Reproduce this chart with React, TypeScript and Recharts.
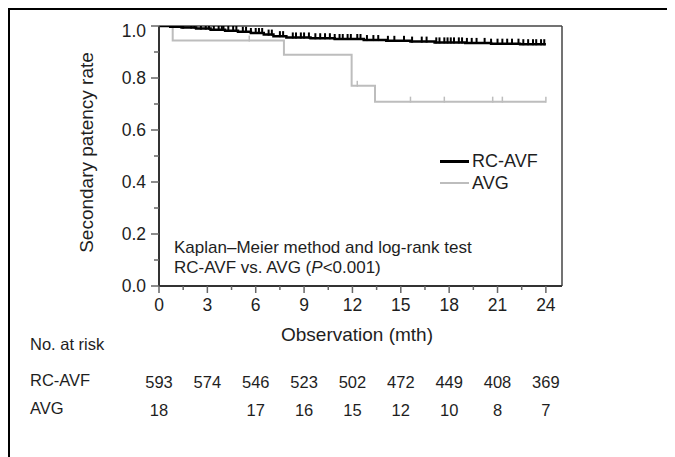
import React from 'react';
import { LineChart, Line, XAxis, YAxis, ReferenceLine, Legend, Customized } from 'recharts';

// ---- data ----
const xTicks = [0, 1.5, 3, 4.5, 6, 7.5, 9, 10.5, 12, 13.5, 15, 16.5, 18, 19.5, 21, 22.5, 24];
const yTicks = [0, 0.1, 0.2, 0.3, 0.4, 0.5, 0.6, 0.7, 0.8, 0.9, 1];

const riskTimes = [0, 3, 6, 9, 12, 15, 18, 21, 24];
const rcRisk = [593, 574, 546, 523, 502, 472, 449, 408, 369];
const avgRisk: (number | null)[] = [18, null, 17, 16, 15, 12, 10, 8, 7];

const rcTimes = [0, 0.7, 1.4, 2.3, 3.2, 4.1, 4.9, 5.7, 6.5, 7.1, 7.9, 9.4, 10.9, 12.7, 14.1, 15.6, 17.1, 19.0, 20.6, 22.4, 24];
const rcSurv = [1, 0.997, 0.994, 0.99, 0.986, 0.982, 0.978, 0.973, 0.967, 0.961, 0.956, 0.953, 0.95, 0.946, 0.943, 0.94, 0.937, 0.935, 0.932, 0.93, 0.93];
const rcCensor = [0.3, 0.9, 1.3, 1.5, 2.0, 2.2, 2.6, 2.9, 3.1, 3.4, 3.7, 3.9, 4.0, 4.3, 4.6, 4.8, 5.2, 5.4, 5.7, 6.0, 6.2, 6.4, 6.8, 7.0, 7.5, 7.7, 8.3, 8.5, 8.8, 9.0, 9.3, 9.7, 10.0, 10.3, 10.6, 10.9, 11.2, 11.4, 11.7, 11.9, 12.3, 12.5, 12.9, 13.3, 13.6, 14.2, 14.6, 15.2, 15.7, 16.3, 16.6, 17.2, 17.4, 17.7, 17.9, 18.1, 18.3, 18.6, 18.8, 19.1, 19.4, 19.7, 20.2, 20.6, 21.0, 21.3, 21.6, 21.9, 22.3, 22.6, 22.9, 23.2, 23.4, 23.7, 23.9];

const avgTimes = [0, 0.85, 7.75, 11.95, 13.4, 24];
const avgSurv = [1, 0.944, 0.889, 0.77, 0.709, 0.709];
const avgCensor = [5.6, 12.3, 15.6, 17.7, 20.7, 21.3, 24];

type Pt = { t: number; s: number; censor: boolean };

function buildKM(times: number[], surv: number[], censor: number[]): Pt[] {
  const pts: Pt[] = times.map((t, i) => ({ t, s: surv[i], censor: false }));
  censor.forEach((c) => {
    let lvl = surv[0];
    times.forEach((t, i) => {
      if (t <= c) lvl = surv[i];
    });
    pts.push({ t: c, s: lvl, censor: true });
  });
  pts.sort((a, b) => a.t - b.t || (a.censor ? 1 : 0) - (b.censor ? 1 : 0));
  return pts;
}

const rcData = buildKM(rcTimes, rcSurv, rcCensor);
const avgData = buildKM(avgTimes, avgSurv, avgCensor);

const FONT = '"Liberation Sans", Arial, sans-serif';
const TXT = '#1e1e1e';

const makeDot = (color: string, w: number) => (props: any) => {
  const { cx, cy, payload, index } = props;
  if (!payload || !payload.censor || cx == null || cy == null) return <g key={`d${index}`} />;
  return <line key={`d${index}`} x1={cx} x2={cx} y1={cy - 5} y2={cy + 1} stroke={color} strokeWidth={w} />;
};

const XTick = (props: any) => {
  const { x, y, payload } = props;
  const v = payload.value as number;
  const major = Math.abs(v % 3) < 1e-6;
  const idx = riskTimes.indexOf(v);
  return (
    <g>
      <line x1={x} x2={x} y1={y} y2={y + (major ? 7 : 4)} stroke="#666" strokeWidth={1.5} />
      {major && (
        <text x={x} y={y + 19} textAnchor="middle" dominantBaseline="central" fontSize={17.5} fill={TXT}>
          {v}
        </text>
      )}
      {idx >= 0 && (
        <text x={x} y={y + 96} textAnchor="middle" dominantBaseline="central" fontSize={16.5} fill={TXT}>
          {rcRisk[idx]}
        </text>
      )}
      {idx >= 0 && avgRisk[idx] != null && (
        <text x={x} y={y + 124} textAnchor="middle" dominantBaseline="central" fontSize={16.5} fill={TXT}>
          {avgRisk[idx]}
        </text>
      )}
    </g>
  );
};

const YTick = (props: any) => {
  const { x, y, payload } = props;
  const v = payload.value as number;
  const major = Math.round(v * 10) % 2 === 0;
  return (
    <g>
      <line x1={x - (major ? 8 : 5)} x2={x} y1={y} y2={y} stroke="#666" strokeWidth={1.5} />
      {major && (
        <text x={x - 13} y={y + (v === 1 ? 5 : 0)} textAnchor="end" dominantBaseline="central" fontSize={17.5} fill={TXT}>
          {v.toFixed(1)}
        </text>
      )}
    </g>
  );
};

const StaticTexts = () => (
  <g fontFamily={FONT}>
    <text x={76} y={142.5} transform="rotate(-90 76 142.5)" textAnchor="middle" dominantBaseline="central" fontSize={19} fill={TXT}>
      Secondary patency rate
    </text>
    <text x={347} y={324} textAnchor="middle" dominantBaseline="central" fontSize={19} fill={TXT}>
      Observation (mth)
    </text>
    <text x={164} y={237} dominantBaseline="central" fontSize={17} fill={TXT}>
      Kaplan–Meier method and log-rank test
    </text>
    <text x={164} y={257} dominantBaseline="central" fontSize={17} fill={TXT}>
      RC-AVF vs. AVG (<tspan fontStyle="italic">P</tspan>&lt;0.001)
    </text>
    <text x={20} y={334} dominantBaseline="central" fontSize={16.5} fill={TXT}>
      No. at risk
    </text>
    <text x={20} y={370} dominantBaseline="central" fontSize={16.5} fill={TXT}>
      RC-AVF
    </text>
    <text x={20} y={398} dominantBaseline="central" fontSize={16.5} fill={TXT}>
      AVG
    </text>
  </g>
);

const LegendContent = () => (
  <div style={{ fontFamily: FONT, fontSize: 18, color: TXT, lineHeight: '22px' }}>
    <div style={{ display: 'flex', alignItems: 'center', height: 22 }}>
      <span style={{ display: 'inline-block', width: 29, height: 3, background: '#000', marginRight: 3 }} />
      RC-AVF
    </div>
    <div style={{ display: 'flex', alignItems: 'center', height: 22 }}>
      <span style={{ display: 'inline-block', width: 29, height: 2, background: '#bdbdbd', marginRight: 3 }} />
      AVG
    </div>
  </div>
);

export default function App() {
  return (
    <div
      style={{
        width: 665,
        height: 447,
        borderTop: '2px solid #000',
        borderLeft: '2px solid #000',
        fontFamily: FONT,
        position: 'relative',
        background: '#fff',
      }}
    >
      <LineChart width={665} height={447} margin={{ top: 16, right: 113, bottom: 141, left: 0 }}>
        <XAxis
          type="number"
          dataKey="t"
          domain={[0, 25]}
          ticks={xTicks}
          interval={0}
          height={30}
          tickSize={0}
          tickMargin={0}
          tickLine={false}
          axisLine={{ stroke: '#333', strokeWidth: 2 }}
          tick={<XTick />}
          allowDataOverflow
        />
        <YAxis
          type="number"
          domain={[0, 1]}
          ticks={yTicks}
          interval={0}
          width={149}
          tickSize={0}
          tickMargin={0}
          tickLine={false}
          axisLine={{ stroke: '#333', strokeWidth: 2 }}
          tick={<YTick />}
          allowDataOverflow
        />
        <ReferenceLine y={1} stroke="#444" strokeWidth={1.5} />
        <ReferenceLine x={25} stroke="#444" strokeWidth={1.5} />
        <Line
          data={avgData}
          dataKey="s"
          type="stepAfter"
          stroke="#bdbdbd"
          strokeWidth={2}
          dot={makeDot('#bdbdbd', 1.5)}
          activeDot={false}
          isAnimationActive={false}
          legendType="none"
        />
        <Line
          data={rcData}
          dataKey="s"
          type="stepAfter"
          stroke="#000"
          strokeWidth={2.5}
          dot={makeDot('#000', 2)}
          activeDot={false}
          isAnimationActive={false}
          legendType="none"
        />
        <Legend
          layout="vertical"
          align="center"
          verticalAlign="middle"
          wrapperStyle={{ left: 430, top: 140, width: 140, height: 44 }}
          content={<LegendContent />}
        />
        <Customized component={<StaticTexts />} />
      </LineChart>
    </div>
  );
}
